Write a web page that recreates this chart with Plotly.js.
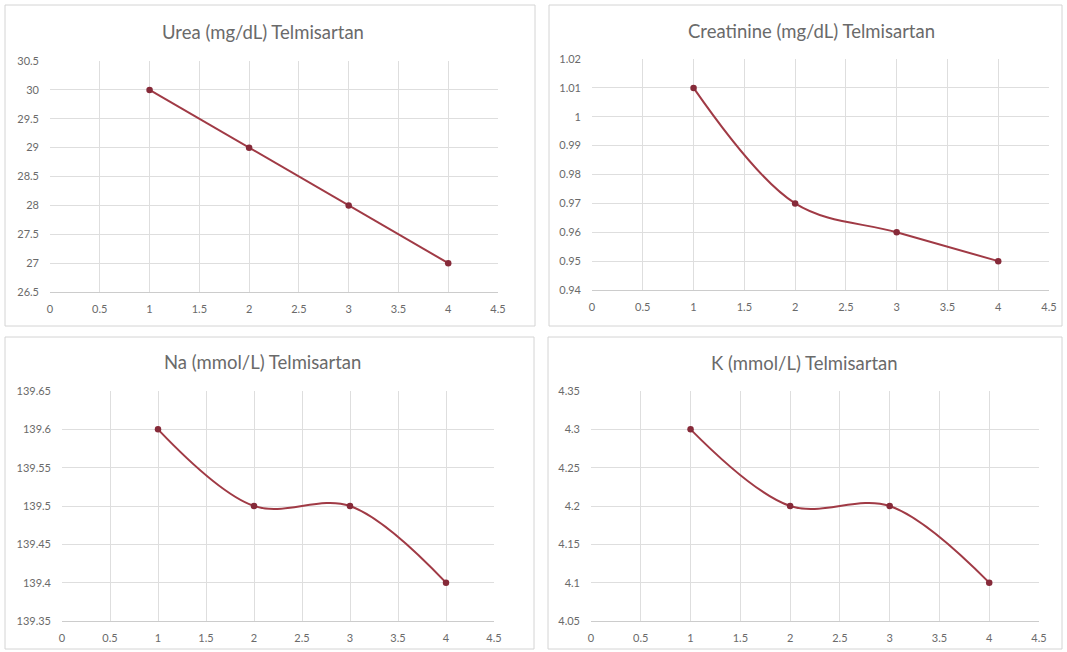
<!DOCTYPE html>
<html>
<head>
<meta charset="utf-8">
<script src="https://cdn.plot.ly/plotly-3.0.1.min.js"></script>
<style>html,body{margin:0;padding:0;background:#fff;}#chart{width:1067px;height:652px;}</style>
</head>
<body>
<div id="chart"></div>
<script>
// Data
const xValues = [1, 2, 3, 4];
const ureaValues = [30, 29, 28, 27];
const creatinineValues = [1.01, 0.97, 0.96, 0.95];
const naValues = [139.6, 139.5, 139.5, 139.4];
const kValues = [4.3, 4.2, 4.2, 4.1];
const titles = ["Urea (mg/dL) Telmisartan", "Creatinine (mg/dL) Telmisartan", "Na (mmol/L) Telmisartan", "K (mmol/L) Telmisartan"];
const yRanges = [[26.5, 30.5], [0.94, 1.02], [139.35, 139.65], [4.05, 4.35]];
const yDticks = [0.5, 0.01, 0.05, 0.05];
const xRange = [0, 4.5];

const W = 1067, H = 652;
const lineColor = '#a03a45';
const markerColor = '#862a39';
const gridColor = '#dedede';
const textColor = '#6a6a6a';
const fontFam = 'Lato, "Open Sans", sans-serif';

// plot areas in pixels [x0, x1, yTop, yBottom]
const areas = [[50, 498, 61, 292], [592, 1049, 59, 290], [62, 494, 391, 621], [591, 1039, 391, 621]];
const boxes = [[5, 535, 5, 326], [549, 1062, 5, 326], [5, 534, 337, 649], [548, 1062, 337, 649]];
const titlePos = [[263, 32], [811, 31], [262, 362], [804, 363]];

const series = [ureaValues, creatinineValues, naValues, kValues];
const smooth = [false, true, true, true];

const data = [];
const layout = {
  width: W, height: H,
  margin: {l: 0, r: 0, t: 0, b: 0},
  paper_bgcolor: '#fff', plot_bgcolor: '#fff',
  showlegend: false,
  font: {family: fontFam, color: textColor},
  shapes: [], annotations: []
};

series.forEach((ys, i) => {
  const n = i === 0 ? '' : String(i + 1);
  data.push({
    x: xValues, y: ys, type: 'scatter', mode: 'lines+markers',
    xaxis: 'x' + n, yaxis: 'y' + n,
    line: {color: lineColor, width: 2, shape: smooth[i] ? 'spline' : 'linear', smoothing: 1},
    marker: {color: markerColor, size: 6.5},
    hoverinfo: 'skip'
  });
  const a = areas[i];
  layout['xaxis' + n] = {
    domain: [a[0] / W, a[1] / W], anchor: 'y' + n,
    range: xRange, dtick: 0.5, tick0: 0,
    showgrid: true, gridcolor: gridColor, gridwidth: 1,
    zeroline: false, showline: true, linecolor: '#cccccc', linewidth: 1,
    ticks: '', ticklabelstandoff: 7,
    tickfont: {size: 11, color: textColor, family: fontFam},
    fixedrange: true
  };
  layout['yaxis' + n] = {
    domain: [1 - a[3] / H, 1 - a[2] / H], anchor: 'x' + n,
    range: yRanges[i], dtick: yDticks[i], tick0: yRanges[i][0],
    showgrid: true, gridcolor: gridColor, gridwidth: 1,
    zeroline: false, showline: false,
    ticks: '', ticklabelstandoff: 10,
    tickfont: {size: 11, color: textColor, family: fontFam},
    fixedrange: true
  };
  const b = boxes[i];
  layout.shapes.push({
    type: 'rect', xref: 'paper', yref: 'paper',
    x0: b[0] / W, x1: b[1] / W, y0: 1 - b[3] / H, y1: 1 - b[2] / H,
    line: {color: '#d4d4d4', width: 1}, fillcolor: 'rgba(0,0,0,0)', layer: 'below'
  });
  layout.annotations.push({
    text: titles[i], xref: 'paper', yref: 'paper',
    x: titlePos[i][0] / W, y: 1 - titlePos[i][1] / H,
    xanchor: 'center', yanchor: 'middle', showarrow: false,
    font: {size: 18.5, color: textColor, family: fontFam}
  });
});

Plotly.newPlot('chart', data, layout, {displayModeBar: false, staticPlot: true});
</script>
</body>
</html>
